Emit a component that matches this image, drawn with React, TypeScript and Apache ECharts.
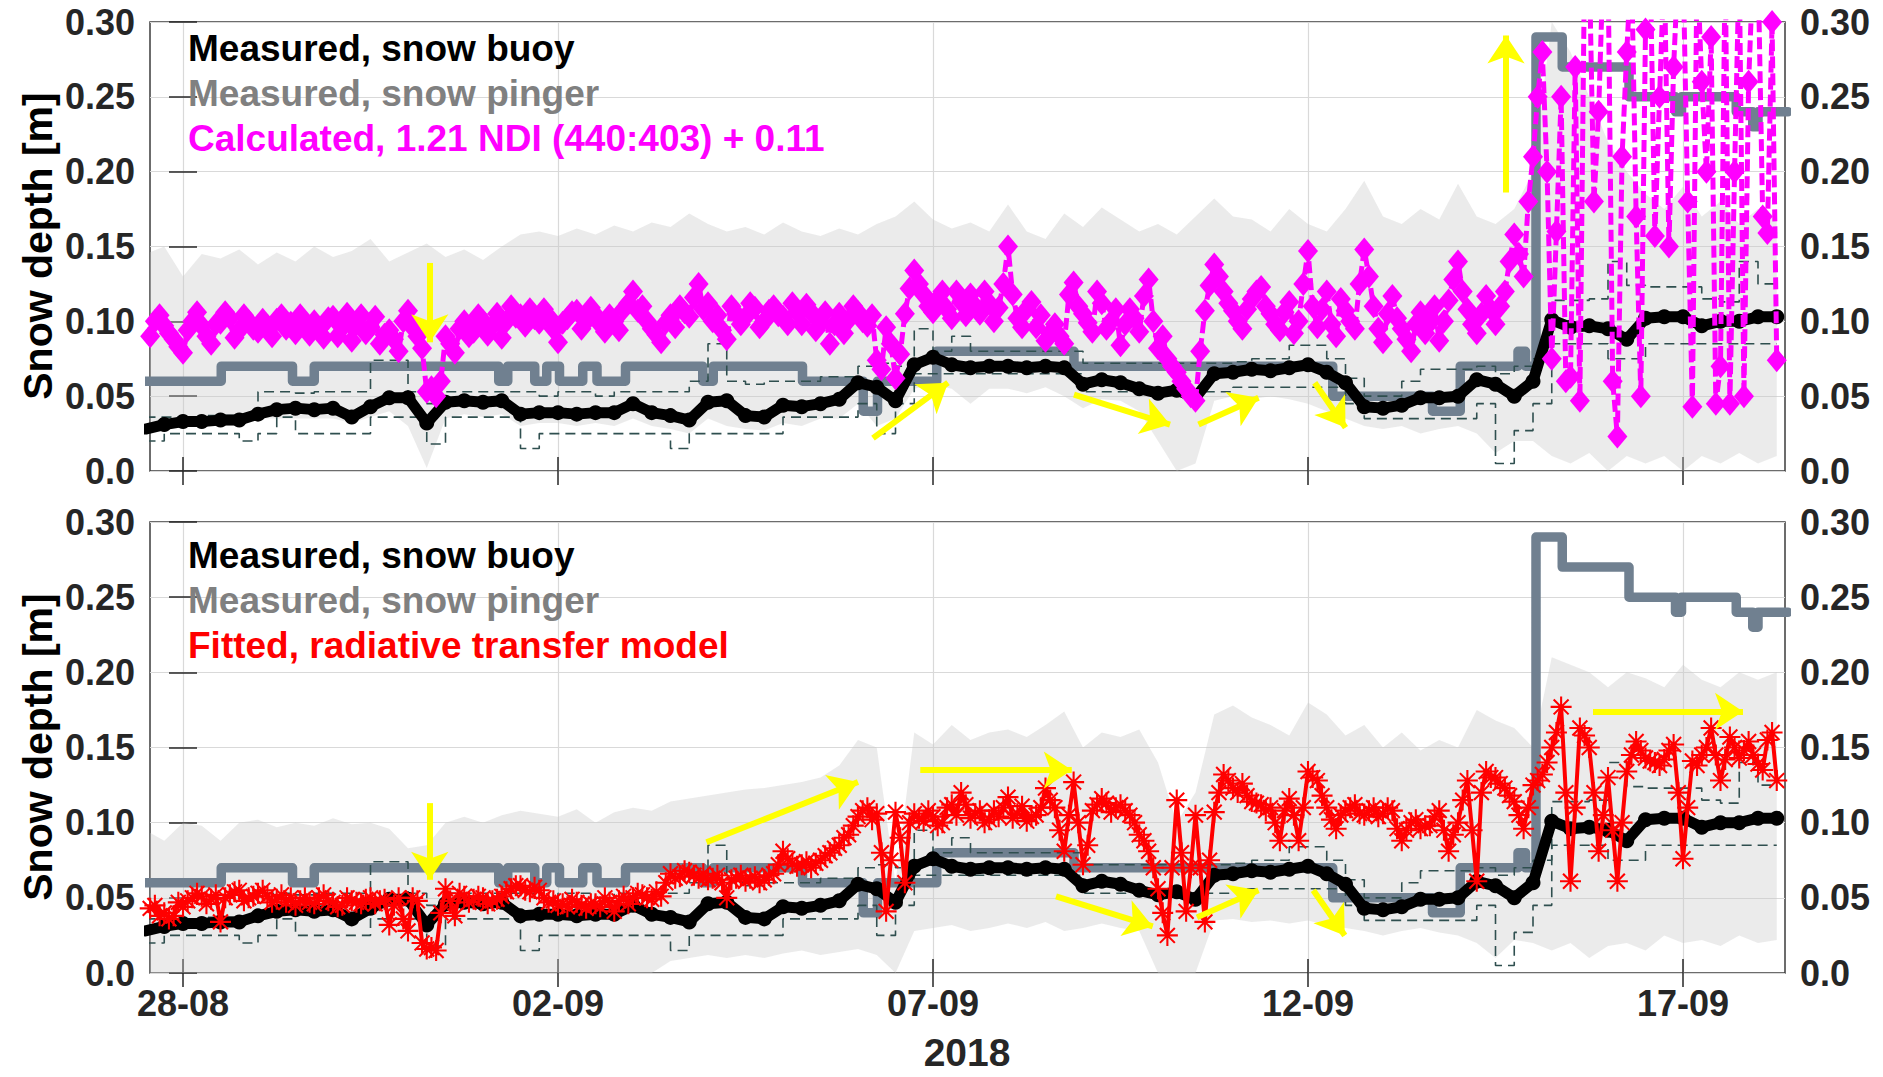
import React, { useEffect, useRef } from 'react';
import * as echarts from 'echarts';

// ---------- sampling grids (days since 28-08-2018 00:00) ----------
const T0 = -0.5;
const DT_COARSE = 0.25;
const DT_FINE = 0.125;
const MID_OFFSET = 0.0625;
const X_MIN = -0.44;
const X_MAX = 21.36;

const dateTickDays = [0, 5, 10, 15, 20];
const dateTickLabels = ['28-08', '02-09', '07-09', '12-09', '17-09'];
const yearLabel = '2018';
const yAxisTitle = 'Snow depth [m]';

// ---------- measured snow buoy (0.25 d) ----------
const buoy = [
  0.028, 0.031, 0.033, 0.033, 0.034, 0.034, 0.038, 0.041,
  0.042, 0.041, 0.042, 0.036, 0.043, 0.049, 0.049, 0.032,
  0.046, 0.047, 0.046, 0.047, 0.038, 0.039, 0.039, 0.038,
  0.039, 0.039, 0.045, 0.039, 0.037, 0.034, 0.046, 0.047,
  0.037, 0.036, 0.044, 0.043, 0.045, 0.048, 0.059, 0.056,
  0.047, 0.071, 0.076, 0.071, 0.069, 0.070, 0.070, 0.069,
  0.070, 0.069, 0.058, 0.061, 0.059, 0.055, 0.052, 0.054,
  0.049, 0.065, 0.066, 0.068, 0.067, 0.069, 0.071, 0.066,
  0.059, 0.043, 0.042, 0.044, 0.049, 0.049, 0.050, 0.061,
  0.058, 0.050, 0.060, 0.101, 0.096, 0.097, 0.095, 0.088,
  0.102, 0.103, 0.103, 0.097, 0.100, 0.100, 0.103, 0.103,
];

// buoy sensor spread (dashed), 0.25 d
const buoyUpper = [
  0.036, 0.036, 0.036, 0.037, 0.037, 0.037, 0.053, 0.053,
  0.052, 0.053, 0.053, 0.053, 0.074, 0.074, 0.053, 0.045,
  0.053, 0.053, 0.053, 0.053, 0.053, 0.050, 0.053, 0.053,
  0.050, 0.053, 0.053, 0.053, 0.053, 0.060, 0.085, 0.060,
  0.058, 0.060, 0.060, 0.060, 0.063, 0.063, 0.070, 0.072,
  0.070, 0.095, 0.080, 0.090, 0.080, 0.080, 0.080, 0.080,
  0.080, 0.080, 0.072, 0.072, 0.072, 0.072, 0.072, 0.072,
  0.072, 0.072, 0.073, 0.075, 0.075, 0.084, 0.084, 0.075,
  0.062, 0.050, 0.050, 0.060, 0.068, 0.068, 0.068, 0.070,
  0.065, 0.070, 0.075, 0.114, 0.114, 0.115, 0.140, 0.124,
  0.123, 0.123, 0.123, 0.115, 0.113, 0.140, 0.125, 0.125,
];
const buoyLower = [
  0.020, 0.025, 0.025, 0.025, 0.025, 0.020, 0.025, 0.036,
  0.025, 0.025, 0.025, 0.025, 0.036, 0.036, 0.036, 0.018,
  0.036, 0.036, 0.036, 0.036, 0.015, 0.025, 0.025, 0.025,
  0.025, 0.025, 0.025, 0.025, 0.015, 0.025, 0.025, 0.025,
  0.025, 0.025, 0.036, 0.036, 0.036, 0.036, 0.045, 0.025,
  0.045, 0.065, 0.065, 0.065, 0.065, 0.065, 0.065, 0.065,
  0.065, 0.065, 0.053, 0.053, 0.053, 0.053, 0.053, 0.050,
  0.053, 0.053, 0.056, 0.056, 0.056, 0.056, 0.056, 0.056,
  0.045, 0.035, 0.035, 0.035, 0.035, 0.035, 0.035, 0.045,
  0.005, 0.027, 0.045, 0.085, 0.085, 0.085, 0.075, 0.075,
  0.085, 0.085, 0.085, 0.085, 0.085, 0.085, 0.085, 0.085,
];

// ---------- grey uncertainty bands (0.25 d) ----------
const bandTopHi = [
  0.145, 0.150, 0.130, 0.145, 0.142, 0.148, 0.138, 0.146,
  0.140, 0.150, 0.143, 0.147, 0.155, 0.140, 0.146, 0.152,
  0.143, 0.148, 0.141, 0.150, 0.158, 0.160, 0.157, 0.162,
  0.158, 0.164, 0.160, 0.166, 0.163, 0.172, 0.165, 0.160,
  0.163, 0.158, 0.166, 0.160, 0.157, 0.162, 0.158, 0.165,
  0.170, 0.180, 0.168, 0.162, 0.166, 0.160, 0.178, 0.160,
  0.155, 0.172, 0.163, 0.176, 0.168, 0.160, 0.165, 0.158,
  0.170, 0.182, 0.170, 0.168, 0.160, 0.175, 0.165, 0.160,
  0.175, 0.194, 0.170, 0.165, 0.175, 0.168, 0.192, 0.170,
  0.165, 0.175, 0.200, 0.300, 0.280, 0.250, 0.220, 0.200,
  0.185, 0.175, 0.190, 0.170, 0.180, 0.165, 0.175, 0.170,
];
const bandTopLo = [
  0.025, 0.028, 0.030, 0.030, 0.030, 0.030, 0.035, 0.035,
  0.035, 0.035, 0.035, 0.032, 0.036, 0.040, 0.030, 0.002,
  0.035, 0.038, 0.036, 0.038, 0.030, 0.032, 0.032, 0.030,
  0.032, 0.030, 0.035, 0.030, 0.028, 0.025, 0.035, 0.030,
  0.028, 0.027, 0.032, 0.030, 0.035, 0.035, 0.045, 0.030,
  0.035, 0.055, 0.058, 0.055, 0.045, 0.055, 0.055, 0.052,
  0.056, 0.050, 0.042, 0.048, 0.047, 0.040, 0.020, 0.000,
  0.005, 0.047, 0.050, 0.048, 0.050, 0.048, 0.045, 0.040,
  0.035, 0.030, 0.028, 0.030, 0.025, 0.028, 0.030, 0.025,
  0.012, 0.020, 0.020, 0.010, 0.005, 0.012, 0.000, 0.010,
  0.005, 0.010, 0.000, 0.010, 0.005, 0.012, 0.005, 0.010,
];
const bandBotHi = [
  0.095, 0.088, 0.100, 0.098, 0.088, 0.100, 0.102, 0.097,
  0.100, 0.098, 0.103, 0.099, 0.100, 0.096, 0.083, 0.085,
  0.100, 0.104, 0.100, 0.105, 0.108, 0.106, 0.104, 0.109,
  0.100, 0.107, 0.110, 0.108, 0.114, 0.116, 0.118, 0.120,
  0.122, 0.123, 0.125, 0.127, 0.130, 0.138, 0.155, 0.150,
  0.060, 0.160, 0.152, 0.165, 0.155, 0.160, 0.162, 0.157,
  0.165, 0.174, 0.150, 0.160, 0.157, 0.162, 0.140, 0.100,
  0.120, 0.172, 0.178, 0.170, 0.165, 0.158, 0.180, 0.172,
  0.158, 0.165, 0.150, 0.160, 0.148, 0.155, 0.150, 0.175,
  0.168, 0.163, 0.150, 0.210, 0.205, 0.200, 0.190, 0.200,
  0.196, 0.190, 0.205, 0.195, 0.190, 0.200, 0.195, 0.200,
];
const bandBotLo = [
  0.000, 0.000, 0.000, 0.000, 0.000, 0.000, 0.000, 0.000,
  0.000, 0.000, 0.000, 0.000, 0.000, 0.000, 0.000, 0.000,
  0.000, 0.000, 0.000, 0.000, 0.000, 0.000, 0.000, 0.000,
  0.000, 0.000, 0.000, 0.000, 0.008, 0.010, 0.012, 0.010,
  0.012, 0.010, 0.013, 0.015, 0.012, 0.014, 0.016, 0.012,
  0.000, 0.028, 0.030, 0.032, 0.028, 0.030, 0.033, 0.030,
  0.034, 0.028, 0.030, 0.033, 0.030, 0.028, 0.000, 0.000,
  0.000, 0.035, 0.036, 0.034, 0.035, 0.033, 0.035, 0.032,
  0.030, 0.028, 0.025, 0.028, 0.030, 0.027, 0.025, 0.020,
  0.010, 0.022, 0.020, 0.015, 0.020, 0.010, 0.018, 0.020,
  0.015, 0.025, 0.020, 0.022, 0.018, 0.025, 0.020, 0.022,
];

// ---------- snow pinger: [day, depth] at each step ----------
const pingerSteps = [
  [-0.5, 0.06], [0.51, 0.07], [1.46, 0.06], [1.75, 0.07], [4.21, 0.06], [4.33, 0.07],
  [4.69, 0.06], [4.85, 0.07], [5.02, 0.06], [5.33, 0.07], [5.52, 0.06], [5.9, 0.07],
  [6.93, 0.06], [7.07, 0.07], [8.26, 0.06], [9.07, 0.04], [9.26, 0.06], [10.05, 0.08],
  [11.88, 0.07], [15.33, 0.05], [16.66, 0.04], [17.03, 0.07], [17.8, 0.08], [17.9, 0.07],
  [18.04, 0.29], [18.39, 0.27], [19.28, 0.25], [19.9, 0.24], [19.98, 0.25], [20.71, 0.24],
  [20.93, 0.23], [21.0, 0.24], [21.4, 0.24],
];

// ---------- calculated 1.21 NDI(440:403)+0.11 ----------
// samples on the 0.125 d grid
const ndiCalc = [
  0.095, 0.100, 0.097, 0.088, 0.079, 0.100, 0.097, 0.085,
  0.099, 0.102, 0.094, 0.100, 0.093, 0.097, 0.101, 0.095,
  0.092, 0.098, 0.100, 0.089, 0.103, 0.096, 0.087, 0.104,
  0.096, 0.085, 0.094, 0.080, 0.107, 0.090, 0.053, 0.050,
  0.090, 0.079, 0.100, 0.093, 0.100, 0.097, 0.089, 0.110,
  0.104, 0.108, 0.099, 0.103, 0.086, 0.102, 0.107, 0.100,
  0.104, 0.093, 0.100, 0.108, 0.120, 0.110, 0.095, 0.086,
  0.104, 0.110, 0.103, 0.125, 0.112, 0.104, 0.088, 0.105,
  0.103, 0.109, 0.100, 0.110, 0.103, 0.112, 0.098, 0.106,
  0.099, 0.085, 0.105, 0.101, 0.106, 0.097, 0.074, 0.096,
  0.062, 0.105, 0.134, 0.118, 0.106, 0.120, 0.102, 0.113,
  0.118, 0.105, 0.112, 0.109, 0.150, 0.102, 0.108, 0.096,
  0.087, 0.098, 0.085, 0.126, 0.105, 0.093, 0.112, 0.100,
  0.084, 0.108, 0.093, 0.128, 0.082, 0.075, 0.066, 0.055,
  0.047, 0.107, 0.138, 0.120, 0.107, 0.095, 0.115, 0.123,
  0.105, 0.094, 0.113, 0.100, 0.147, 0.096, 0.120, 0.090,
  0.107, 0.095, 0.148, 0.110, 0.086, 0.117, 0.095, 0.080,
  0.106, 0.099, 0.087, 0.114, 0.140, 0.108, 0.092, 0.117,
  0.098, 0.120, 0.158, 0.130, 0.210, 0.280, 0.075, 0.250,
  0.063, 0.047, 0.340, 0.240, 0.340, 0.023, 0.280, 0.170,
  0.295, 0.157, 0.340, 0.270, 0.340, 0.043, 0.260, 0.290,
  0.070, 0.045, 0.340, 0.260, 0.340, 0.159, 0.074,
];
// samples between those (offset 0.0625 d)
const ndiCalcMid = [
  0.090, 0.104, 0.092, 0.083, 0.094, 0.106, 0.090, 0.098,
  0.106, 0.089, 0.104, 0.095, 0.101, 0.090, 0.104, 0.099,
  0.104, 0.091, 0.095, 0.102, 0.090, 0.105, 0.098, 0.092,
  0.103, 0.091, 0.088, 0.100, 0.096, 0.082, 0.056, 0.060,
  0.085, 0.095, 0.090, 0.104, 0.091, 0.105, 0.100, 0.103,
  0.097, 0.102, 0.108, 0.095, 0.099, 0.106, 0.095, 0.109,
  0.098, 0.104, 0.094, 0.112, 0.107, 0.100, 0.091, 0.099,
  0.096, 0.106, 0.116, 0.108, 0.100, 0.094, 0.110, 0.098,
  0.112, 0.096, 0.107, 0.104, 0.098, 0.106, 0.111, 0.094,
  0.106, 0.098, 0.092, 0.110, 0.100, 0.104, 0.068, 0.085,
  0.078, 0.122, 0.125, 0.110, 0.115, 0.108, 0.120, 0.104,
  0.110, 0.120, 0.100, 0.125, 0.118, 0.096, 0.113, 0.104,
  0.092, 0.090, 0.118, 0.110, 0.099, 0.120, 0.095, 0.108,
  0.098, 0.102, 0.117, 0.100, 0.090, 0.070, 0.060, 0.050,
  0.080, 0.124, 0.130, 0.112, 0.100, 0.108, 0.120, 0.110,
  0.098, 0.106, 0.092, 0.125, 0.110, 0.108, 0.098, 0.115,
  0.100, 0.125, 0.130, 0.095, 0.105, 0.102, 0.088, 0.098,
  0.092, 0.110, 0.100, 0.128, 0.120, 0.098, 0.105, 0.108,
  0.110, 0.140, 0.145, 0.180, 0.250, 0.200, 0.160, 0.060,
  0.270, 0.340, 0.180, 0.340, 0.060, 0.210, 0.340, 0.050,
  0.340, 0.250, 0.150, 0.340, 0.180, 0.340, 0.200, 0.045,
  0.340, 0.200, 0.050, 0.340, 0.170, 0.300,
];

// ---------- fitted radiative transfer model ----------
const rtmFit = [
  0.040, 0.045, 0.040, 0.038, 0.044, 0.050, 0.051, 0.049,
  0.034, 0.052, 0.055, 0.050, 0.053, 0.051, 0.049, 0.047,
  0.045, 0.050, 0.046, 0.052, 0.047, 0.045, 0.048, 0.046,
  0.050, 0.048, 0.032, 0.050, 0.028, 0.048, 0.016, 0.015,
  0.056, 0.038, 0.051, 0.049, 0.050, 0.048, 0.051, 0.056,
  0.058, 0.054, 0.055, 0.047, 0.045, 0.044, 0.047, 0.043,
  0.046, 0.050, 0.041, 0.051, 0.050, 0.052, 0.049, 0.051,
  0.066, 0.064, 0.067, 0.063, 0.062, 0.065, 0.050, 0.063,
  0.061, 0.064, 0.062, 0.066, 0.081, 0.073, 0.072, 0.070,
  0.075, 0.080, 0.085, 0.092, 0.104, 0.110, 0.106, 0.041,
  0.107, 0.060, 0.106, 0.101, 0.104, 0.100, 0.112, 0.120,
  0.103, 0.108, 0.102, 0.104, 0.117, 0.106, 0.101, 0.105,
  0.123, 0.110, 0.081, 0.127, 0.072, 0.108, 0.116, 0.107,
  0.112, 0.105, 0.092, 0.081, 0.056, 0.025, 0.115, 0.041,
  0.105, 0.034, 0.107, 0.132, 0.123, 0.126, 0.114, 0.112,
  0.110, 0.088, 0.116, 0.088, 0.134, 0.128, 0.110, 0.096,
  0.108, 0.112, 0.105, 0.110, 0.106, 0.108, 0.088, 0.100,
  0.096, 0.098, 0.108, 0.081, 0.100, 0.128, 0.061, 0.134,
  0.130, 0.123, 0.114, 0.096, 0.125, 0.132, 0.150, 0.177,
  0.061, 0.163, 0.150, 0.081, 0.130, 0.061, 0.134, 0.154,
  0.143, 0.140, 0.142, 0.152, 0.076, 0.141, 0.145, 0.163,
  0.128, 0.157, 0.143, 0.154, 0.139, 0.155, 0.128,
];
const rtmFitMid = [
  0.043, 0.038, 0.036, 0.047, 0.048, 0.053, 0.046, 0.052,
  0.050, 0.054, 0.048, 0.051, 0.055, 0.047, 0.052, 0.050,
  0.048, 0.047, 0.050, 0.048, 0.044, 0.050, 0.047, 0.049,
  0.046, 0.049, 0.045, 0.036, 0.050, 0.020, 0.017, 0.040,
  0.048, 0.053, 0.047, 0.051, 0.046, 0.049, 0.054, 0.058,
  0.055, 0.057, 0.050, 0.048, 0.046, 0.049, 0.045, 0.046,
  0.044, 0.047, 0.048, 0.046, 0.053, 0.050, 0.054, 0.060,
  0.063, 0.068, 0.065, 0.066, 0.063, 0.060, 0.062, 0.065,
  0.063, 0.060, 0.065, 0.072, 0.076, 0.071, 0.074, 0.073,
  0.078, 0.083, 0.090, 0.098, 0.108, 0.102, 0.080, 0.075,
  0.090, 0.100, 0.103, 0.108, 0.098, 0.110, 0.105, 0.112,
  0.106, 0.100, 0.108, 0.110, 0.103, 0.111, 0.104, 0.110,
  0.115, 0.095, 0.105, 0.100, 0.085, 0.112, 0.113, 0.110,
  0.108, 0.100, 0.088, 0.070, 0.040, 0.070, 0.080, 0.070,
  0.070, 0.075, 0.120, 0.128, 0.120, 0.118, 0.113, 0.108,
  0.100, 0.108, 0.105, 0.110, 0.130, 0.118, 0.102, 0.105,
  0.110, 0.106, 0.108, 0.104, 0.110, 0.096, 0.095, 0.102,
  0.098, 0.104, 0.095, 0.092, 0.115, 0.095, 0.120, 0.130,
  0.126, 0.118, 0.105, 0.110, 0.128, 0.140, 0.160, 0.120,
  0.110, 0.158, 0.120, 0.105, 0.095, 0.100, 0.145, 0.148,
  0.141, 0.138, 0.148, 0.120, 0.110, 0.138, 0.150, 0.145,
  0.142, 0.150, 0.148, 0.145, 0.135, 0.160,
];

// ---------- annotation arrows [x1, y1, x2, y2] in data units ----------
const arrowsTop = [
  [3.29, 0.139, 3.29, 0.086],
  [9.2, 0.022, 10.2, 0.059],
  [11.88, 0.051, 13.16, 0.031],
  [13.54, 0.031, 14.34, 0.049],
  [15.09, 0.059, 15.5, 0.029],
  [17.64, 0.186, 17.64, 0.291],
];
const arrowsBottom = [
  [3.29, 0.113, 3.29, 0.062],
  [6.98, 0.087, 9.0, 0.127],
  [9.83, 0.135, 11.85, 0.135],
  [11.64, 0.051, 12.93, 0.031],
  [13.52, 0.037, 14.34, 0.055],
  [15.07, 0.055, 15.49, 0.025],
  [18.8, 0.174, 20.8, 0.174],
];

const legendTop = [
  { text: 'Measured, snow buoy', color: '#000000' },
  { text: 'Measured, snow pinger', color: '#808080' },
  { text: 'Calculated, 1.21 NDI (440:403) + 0.11', color: '#ff00ff' },
];
const legendBottom = [
  { text: 'Measured, snow buoy', color: '#000000' },
  { text: 'Measured, snow pinger', color: '#808080' },
  { text: 'Fitted, radiative transfer model', color: '#ff0000' },
];

const FONT = '"Liberation Sans", Arial, Helvetica, sans-serif';
const AXIS_TXT = '#262626';
const ASTERISK =
  'path://M9,0H11V20H9Z M0,9H20V11H0Z M2.2,3.6L3.6,2.2L17.8,16.4L16.4,17.8Z M16.4,2.2L17.8,3.6L3.6,17.8L2.2,16.4Z';

const pairs = (vals: number[], dt: number) => vals.map((v, i) => [T0 + i * dt, v]);
// interleave grid samples with the in-between samples, in time order
const interleave = (main: number[], mid: number[]) => {
  const out: number[][] = [];
  main.forEach((v, i) => {
    out.push([T0 + i * DT_FINE, v]);
    if (i < mid.length) out.push([T0 + MID_OFFSET + i * DT_FINE, mid[i]]);
  });
  return out;
};

function bandSeries(ax: any, hi: number[], lo: number[]) {
  return {
    type: 'custom', ...ax, clip: true, silent: true, z: 1,
    data: hi.map((h, i) => [T0 + i * DT_COARSE, lo[i], h]),
    encode: { x: 0, y: [1, 2] },
    renderItem: (params: any, api: any) => {
      if (params.dataIndex !== 0) return null;
      const pts: number[][] = [];
      for (let i = 0; i < hi.length; i++) pts.push(api.coord([T0 + i * DT_COARSE, hi[i]]));
      for (let i = lo.length - 1; i >= 0; i--) pts.push(api.coord([T0 + i * DT_COARSE, lo[i]]));
      return {
        type: 'polygon',
        shape: { points: pts },
        style: { fill: 'rgba(200,200,200,0.36)', stroke: null },
      };
    },
  };
}

function panelSeries(p: number, bandHi: number[], bandLo: number[], estimate: any, arrows: number[][]) {
  const ax = { xAxisIndex: p * 2, yAxisIndex: p * 2 };
  return [
    bandSeries(ax, bandHi, bandLo),
    {
      type: 'line', ...ax, step: 'end', data: pingerSteps, showSymbol: false,
      lineStyle: { color: '#708090', width: 9.5, cap: 'round', join: 'round' }, z: 2,
    },
    {
      type: 'line', ...ax, step: 'end', data: pairs(buoyUpper, DT_COARSE), showSymbol: false,
      lineStyle: { color: '#2f4f4f', width: 1.6, type: [10, 6] }, z: 3,
    },
    {
      type: 'line', ...ax, step: 'end', data: pairs(buoyLower, DT_COARSE), showSymbol: false,
      lineStyle: { color: '#2f4f4f', width: 1.6, type: [10, 6] }, z: 3,
    },
    {
      type: 'line', ...ax, data: pairs(buoy, DT_COARSE),
      symbol: 'circle', symbolSize: 15, itemStyle: { color: '#000000' },
      lineStyle: { color: '#000000', width: 11, join: 'round', cap: 'round' }, z: 4,
    },
    { ...estimate, ...ax, z: 5 },
    {
      type: 'line', ...ax, data: [], z: 8,
      markLine: {
        silent: true, animation: false, z: 8,
        symbol: ['none', 'arrow'], symbolSize: 28,
        label: { show: false },
        lineStyle: { color: '#ffff00', width: 6, type: 'solid' },
        emphasis: { disabled: true },
        data: arrows.map((a) => [{ coord: [a[0], a[1]] }, { coord: [a[2], a[3]] }]),
      },
    },
  ];
}

function xAxisFor(gridIndex: number, position: string, showLabel: boolean, showSplit: boolean) {
  return {
    type: 'value', gridIndex, position, min: X_MIN, max: X_MAX,
    axisLine: { show: false },
    axisTick: {
      show: true, inside: true, length: 14, customValues: dateTickDays,
      lineStyle: { color: AXIS_TXT, width: 1.5 },
    },
    axisLabel: {
      show: showLabel, customValues: dateTickDays, margin: 12,
      formatter: (v: number) => {
        const i = dateTickDays.findIndex((d) => Math.abs(d - v) < 1e-6);
        return i >= 0 ? dateTickLabels[i] : '';
      },
      fontSize: 36, fontWeight: 'bold', fontFamily: FONT, color: AXIS_TXT,
    },
    splitLine: { show: showSplit, lineStyle: { color: '#d9d9d9', width: 1.2 } },
  };
}

function yAxisFor(gridIndex: number, position: string, showSplit: boolean) {
  return {
    type: 'value', gridIndex, position, min: 0, max: 0.3, interval: 0.05,
    axisLine: { show: false },
    axisTick: { show: true, inside: true, length: 14, lineStyle: { color: AXIS_TXT, width: 1.5 } },
    axisLabel: {
      margin: 15,
      formatter: (v: number) => (Math.abs(v) < 1e-9 ? '0.0' : v.toFixed(2)),
      fontSize: 36, fontWeight: 'bold', fontFamily: FONT, color: AXIS_TXT,
    },
    splitLine: { show: showSplit, lineStyle: { color: '#d9d9d9', width: 1.2 } },
  };
}

function textEl(text: string, x: number, y: number, color: string, size: number, align = 'left', rotation = 0) {
  return {
    type: 'text', x, y, rotation, z: 100, silent: true,
    style: {
      text, fill: color, fontSize: size, fontWeight: 'bold', fontFamily: FONT,
      align, verticalAlign: 'middle',
    },
  };
}

export default function App() {
  const ref = useRef<HTMLDivElement>(null);

  useEffect(() => {
    if (!ref.current) return;
    const chart = echarts.init(ref.current, null, { renderer: 'svg' });

    const magentaSeries = {
      type: 'line', data: interleave(ndiCalc, ndiCalcMid),
      symbol: 'diamond', symbolSize: [20, 24], itemStyle: { color: '#ff00ff' },
      lineStyle: { color: '#ff00ff', width: 5, type: [12, 5] },
    };
    const redSeries = {
      type: 'line', data: interleave(rtmFit, rtmFitMid),
      symbol: ASTERISK, symbolSize: 21, itemStyle: { color: '#ff0000' },
      lineStyle: { color: '#ff0000', width: 4, join: 'round' },
    };

    const gridCommon = {
      left: 150, width: 1635, show: true, borderColor: '#3c3c3c', borderWidth: 1.5,
      backgroundColor: 'transparent', outerBoundsMode: 'none', containLabel: false,
    };

    const legendY0 = [48, 93, 138];
    const legendY1 = [555, 600, 645];

    const option: any = {
      animation: false,
      backgroundColor: '#ffffff',
      grid: [
        { ...gridCommon, top: 22, height: 449 },
        { ...gridCommon, top: 522, height: 451 },
      ],
      xAxis: [
        xAxisFor(0, 'bottom', false, true),
        xAxisFor(0, 'top', false, false),
        xAxisFor(1, 'bottom', true, true),
        xAxisFor(1, 'top', false, false),
      ],
      yAxis: [
        yAxisFor(0, 'left', true),
        yAxisFor(0, 'right', false),
        yAxisFor(1, 'left', true),
        yAxisFor(1, 'right', false),
      ],
      series: [
        ...panelSeries(0, bandTopHi, bandTopLo, magentaSeries, arrowsTop),
        ...panelSeries(1, bandBotHi, bandBotLo, redSeries, arrowsBottom),
      ],
      graphic: [
        ...legendTop.map((l, i) => textEl(l.text, 188, legendY0[i], l.color, 37)),
        ...legendBottom.map((l, i) => textEl(l.text, 188, legendY1[i], l.color, 37)),
        textEl(yAxisTitle, 38, 246, '#000000', 41, 'center', Math.PI / 2),
        textEl(yAxisTitle, 38, 747, '#000000', 41, 'center', Math.PI / 2),
        textEl(yearLabel, 967, 1052, AXIS_TXT, 39, 'center'),
      ],
    };

    chart.setOption(option);
    return () => chart.dispose();
  }, []);

  return (
    <div
      ref={ref}
      style={{ position: 'fixed', left: 0, top: 0, width: 1883, height: 1077, background: '#ffffff' }}
    />
  );
}
